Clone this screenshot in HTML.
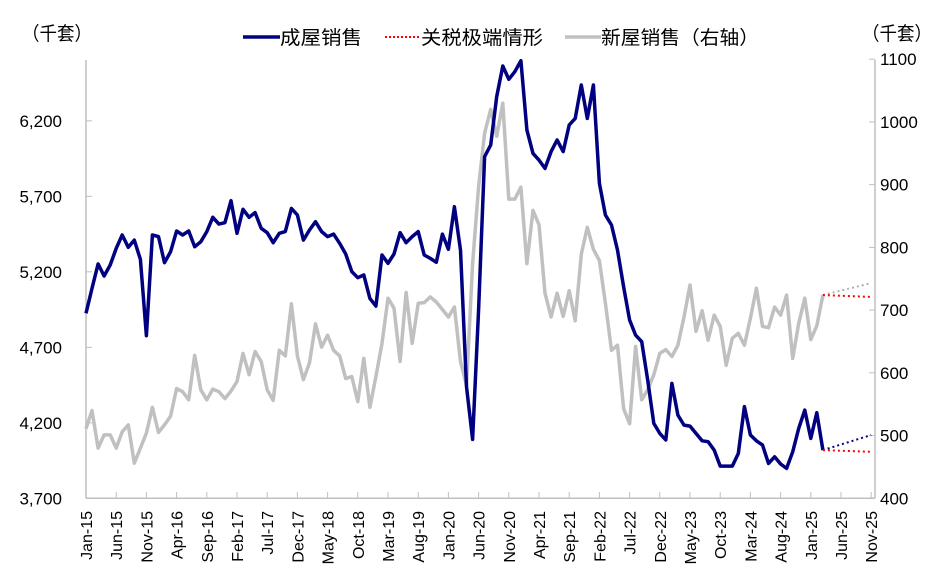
<!DOCTYPE html>
<html><head><meta charset="utf-8"><style>
html,body{margin:0;padding:0;background:#fff}
svg{display:block;font-family:"Liberation Sans","Noto Sans CJK SC",sans-serif}
</style></head><body>
<svg id="chart" width="948" height="586" viewBox="0 0 948 586">
<g id="axes"></g><g id="series"></g>
<g font-size="19" fill="#000">
<line x1="243" y1="37" x2="280" y2="37" stroke="#000080" stroke-width="3.5"/>
<text x="280" y="44" textLength="82" lengthAdjust="spacingAndGlyphs">成屋销售</text>
<line x1="385" y1="37" x2="419" y2="37" stroke="#ff0000" stroke-width="2" stroke-dasharray="2,2"/>
<text x="421" y="44" textLength="122" lengthAdjust="spacingAndGlyphs">关税极端情形</text>
<line x1="565" y1="37" x2="601" y2="37" stroke="#c0c0c0" stroke-width="3.5"/>
<text x="601" y="44" textLength="158" lengthAdjust="spacingAndGlyphs">新屋销售（右轴）</text>
</g>
<text x="22" y="40" font-size="19" textLength="70" lengthAdjust="spacingAndGlyphs">（千套）</text>
<text x="862" y="40" font-size="19" textLength="70" lengthAdjust="spacingAndGlyphs">（千套）</text>
</svg>
<script>
const resale=[4925,5090,5252,5172,5245,5355,5444,5362,5410,5282,4777,5444,5433,5260,5333,5470,5444,5470,5366,5399,5466,5561,5516,5525,5671,5455,5614,5561,5592,5488,5459,5393,5455,5466,5620,5576,5410,5477,5532,5466,5433,5450,5388,5318,5201,5161,5179,5024,4973,5311,5256,5318,5459,5393,5433,5466,5311,5289,5263,5450,5349,5631,5344,4439,4090,4950,5962,6040,6360,6563,6475,6525,6598,6139,5984,5940,5885,5996,6073,5996,6172,6216,6437,6216,6437,5786,5576,5510,5344,5101,4881,4781,4737,4483,4196,4130,4086,4461,4251,4185,4178,4130,4081,4075,4019,3913,3913,3913,3997,4307,4119,4081,4053,3931,3975,3927,3898,4008,4163,4284,4097,4267,4019];
const newSales=[511,540,480,501,501,480,506,517,456,480,504,545,505,517,531,575,570,557,628,573,557,574,570,559,571,586,631,597,634,618,573,556,636,627,710,627,589,616,678,641,660,636,627,591,594,554,623,545,594,647,719,703,618,728,647,711,712,721,713,701,689,705,618,580,774,897,982,1020,977,1030,877,877,896,774,859,836,727,689,727,690,731,683,789,832,797,779,711,636,644,543,519,642,557,573,597,631,637,626,644,689,740,666,699,652,692,674,612,655,663,644,687,735,674,672,705,692,724,623,679,719,653,675,724];
const resaleProj=[4019,4119];
const tariffResale=[4019,4008];
const newProj=[724,743];
const tariffNew=[724,721];
const projIdx=[122,130];
const months=['Jan','Feb','Mar','Apr','May','Jun','Jul','Aug','Sep','Oct','Nov','Dec'];
const leftTicks=[3700,4200,4700,5200,5700,6200];
const rightTicks=[400,500,600,700,800,900,1000,1100];
const NS='http://www.w3.org/2000/svg';
const X=i=>86+i*6.04;
const YL=v=>498.3-(v-3700)/500*75.5;
const YR=v=>498.3-(v-400)/100*62.73;
const axes=document.getElementById('axes'),ser=document.getElementById('series');
function mk(t,a,p){const e=document.createElementNS(NS,t);for(const k in a)e.setAttribute(k,a[k]);p.appendChild(e);return e;}
let e;
e=mk('line',{x1:86,y1:60,x2:86,y2:498.3,stroke:'#bfbfbf','stroke-width':1.5},axes);


e=mk('line',{x1:875,y1:60,x2:875,y2:498.3,stroke:'#bfbfbf','stroke-width':1.5},axes);


e=mk('line',{x1:86,y1:498.3,x2:875,y2:498.3,stroke:'#bfbfbf','stroke-width':1.5},axes);


leftTicks.forEach(v=>{
 mk('line',{x1:86,x2:92,y1:YL(v),y2:YL(v),stroke:'#bfbfbf'},axes);
 e=mk('text',{x:62,y:YL(v)+6,'text-anchor':'end','font-size':17},axes);e.textContent=v.toLocaleString('en-US');
 
 
});
rightTicks.forEach(v=>{
 mk('line',{x1:869,x2:875,y1:YR(v),y2:YR(v),stroke:'#bfbfbf'},axes);
 e=mk('text',{x:880,y:YR(v)+6,'font-size':17},axes);e.textContent=v;
 
 
});
for(let i=0;i<=130;i+=5){
 mk('line',{x1:X(i),x2:X(i),y1:492,y2:498.3,stroke:'#bfbfbf'},axes);
 const lbl=months[i%12]+'-'+(15+Math.floor(i/12));
 const cx=X(i)+6;
 e=mk('text',{x:0,y:0,'text-anchor':'end','font-size':16,transform:`translate(${cx},511) rotate(-90)`},axes);e.textContent=lbl;
 
 
}
function line(vals,yf,start,color,w,dash,name){
 const pts=vals.map((v,k)=>X(start+k).toFixed(1)+','+yf(v).toFixed(1)).join(' ');
 const a={points:pts,fill:'none',stroke:color,'stroke-width':w,'stroke-linejoin':'round'};
 if(dash)a['stroke-dasharray']=dash;
 const p=mk('polyline',a,ser);
 
 
}
function proj(vals,yf,color,name){
 const p=mk('line',{x1:X(projIdx[0]),y1:yf(vals[0]),x2:X(projIdx[1]),y2:yf(vals[1]),stroke:color,'stroke-width':2,'stroke-dasharray':'2,3'},ser);
 
 
}
line(newSales,YR,0,'#c0c0c0',3.5,null,'new-home-sales-line');
line(resale,YL,0,'#000080',3.5,null,'existing-home-sales-line');
proj(newProj,YR,'#b0b0b0','new-home-projection');
proj(tariffNew,YR,'#ff0000','new-home-tariff-scenario');
proj(resaleProj,YL,'#000080','existing-home-projection');
proj(tariffResale,YL,'#ff0000','existing-home-tariff-scenario');
</script>
</body></html>
